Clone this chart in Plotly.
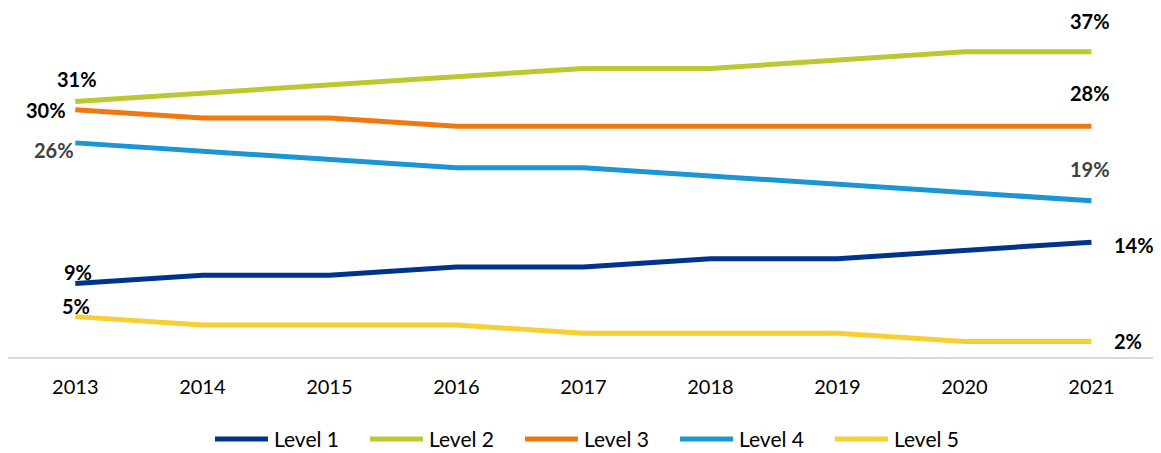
import plotly.graph_objects as go

years = [2013, 2014, 2015, 2016, 2017, 2018, 2019, 2020, 2021]

level_1 = [9, 10, 10, 11, 11, 12, 12, 13, 14]
level_2 = [31, 32, 33, 34, 35, 35, 36, 37, 37]
level_3 = [30, 29, 29, 28, 28, 28, 28, 28, 28]
level_4 = [26, 25, 24, 23, 23, 22, 21, 20, 19]
level_5 = [5, 4, 4, 4, 3, 3, 3, 2, 2]

series_names = ["Level 1", "Level 2", "Level 3", "Level 4", "Level 5"]
series_values = [level_1, level_2, level_3, level_4, level_5]
colors = ["#00338d", "#bcc82f", "#f0780f", "#1a96d4", "#f8cf32"]

FONT = "Lato, Open Sans, sans-serif"

# label offsets (px) for first and last point of each series
first_pos = [(3, 12, "#000000"),
             (2, 23, "#000000"),
             (-29, 0, "#000000"),
             (-21, -7, "#404040"),
             (1, 11, "#000000")]
last_pos = [(43, -3, "#000000"),
            (-1, 31, "#000000"),
            (-1, 33, "#000000"),
            (-1, 32, "#404040"),
            (37, 0, "#000000")]

# the page body adds 8px around the figure
W, H = 1153, 445
ML, MR, MT, MB = 0, 6, 0, 95
plot_w = W - ML - MR
plot_h = H - MT - MB

fig = go.Figure()

for name, vals, col in zip(series_names, series_values, colors):
    fig.add_trace(go.Scatter(
        x=years,
        y=vals,
        name=name,
        mode="lines",
        line=dict(color=col, width=5),
        showlegend=False,
    ))

for i, vals in enumerate(series_values):
    for idx, pos in ((0, first_pos[i]), (-1, last_pos[i])):
        xs, ys, col = pos
        fig.add_annotation(
            x=years[idx], y=vals[idx],
            text="<b>%d%%</b>" % vals[idx],
            showarrow=False,
            xshift=xs,
            yshift=ys,
            xanchor="center",
            font=dict(family=FONT, size=20, color=col),
        )

# legend drawn by hand so the line samples match the original length
legend_x0 = 207
legend_step = 155
legend_y = 431
for i, (name, col) in enumerate(zip(series_names, colors)):
    x0 = legend_x0 + i * legend_step
    ly = (H - MB - legend_y) / plot_h
    fig.add_shape(
        type="line",
        xref="paper", yref="paper",
        x0=(x0 - ML) / plot_w, x1=(x0 + 53 - ML) / plot_w,
        y0=ly, y1=ly,
        line=dict(color=col, width=5),
    )
    fig.add_annotation(
        xref="paper", yref="paper",
        x=(x0 + 57 - ML) / plot_w, y=ly,
        text=name,
        showarrow=False,
        xanchor="left", yanchor="middle",
        font=dict(family=FONT, size=21, color="#000000"),
    )

fig.update_layout(
    width=W,
    height=H,
    margin=dict(l=ML, r=MR, t=MT, b=MB, autoexpand=False),
    plot_bgcolor="white",
    paper_bgcolor="white",
    showlegend=False,
    xaxis=dict(
        range=[2012.47, 2021.5],
        tickvals=years,
        ticktext=[str(y) for y in years],
        showgrid=False,
        zeroline=False,
        showline=False,
        ticks="outside",
        ticklen=0,
        tickcolor="white",
        ticklabelstandoff=11,
        tickfont=dict(family=FONT, size=20, color="#000000"),
    ),
    yaxis=dict(
        range=[0, 42.3],
        showgrid=False,
        zeroline=True,
        zerolinecolor="#d9d9d9",
        zerolinewidth=2,
        showticklabels=False,
        showline=False,
    ),
)

fig.write_html("out.html")
